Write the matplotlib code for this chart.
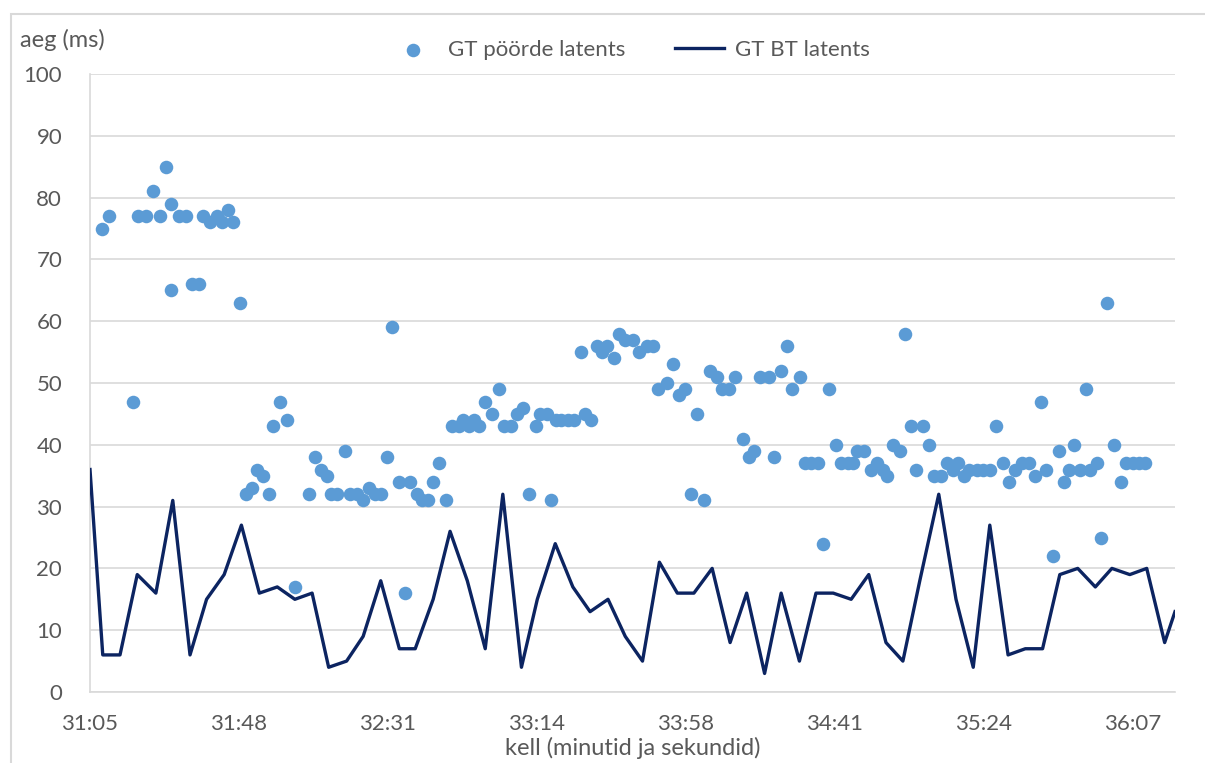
import matplotlib.pyplot as plt
from matplotlib.patches import Rectangle

# time axis: seconds after 31:05
tick_pos = [0, 43.2, 86.4, 129.6, 172.8, 216.0, 259.2, 302.4]
tick_labels = ["31:05", "31:48", "32:31", "33:14", "33:58", "34:41", "35:24", "36:07"]

# GT BT latents (line)
bt_t = [0, 3.7, 8.7, 13.7, 19.1, 24.0, 29.0, 33.8, 38.9, 43.9, 49.1, 54.3, 59.4, 64.4,
        69.2, 74.4, 79.2, 84.3, 89.7, 94.3, 99.5, 104.4, 109.4, 114.6, 119.7, 125.1,
        129.7, 134.9, 140.0, 145.0, 150.2, 155.2, 160.2, 165.1, 170.3, 175.1, 180.4,
        185.6, 190.4, 195.6, 200.4, 205.7, 210.5, 215.5, 220.7, 225.8, 230.8, 235.7,
        240.6, 246.1, 251.1, 256.1, 260.9, 266.2, 271.2, 276.2, 281.2, 286.4, 291.5,
        296.3, 301.5, 306.4, 311.6, 314.6]
bt_ms = [36, 6, 6, 19, 16, 31, 6, 15, 19, 27, 16, 17, 15, 16,
         4, 5, 9, 18, 7, 7, 15, 26, 18, 7, 32, 4,
         15, 24, 17, 13, 15, 9, 5, 21, 16, 16, 20,
         8, 16, 3, 16, 5, 16, 16, 15, 19, 8, 5,
         18, 32, 15, 4, 27, 6, 7, 7, 19, 20, 17,
         20, 19, 20, 8, 13]

# GT pöörde latents (points)
p_t = [3.5, 5.4, 12.4, 14.0, 16.2, 18.4, 20.3, 21.9, 23.6, 23.6, 25.7, 27.8, 29.6, 31.5,
       32.8, 34.8, 36.7, 38.2, 40.1, 41.5, 43.5, 45.2, 47.0, 48.5, 50.1, 52.0, 53.1,
       55.1, 57.0, 59.4, 63.4, 65.3, 66.9, 68.6, 69.8, 71.7, 73.8, 75.4, 77.3, 79.1,
       81.0, 82.6, 84.4, 86.0, 87.6, 89.5, 91.3, 92.8, 94.7, 96.3, 98.0, 99.4, 101.3,
       103.2, 105.0, 106.9, 108.1, 109.8, 111.3, 112.9, 114.6, 116.6, 118.5, 120.0,
       122.0, 123.7, 125.5, 127.4, 129.3, 130.5, 132.4, 133.7, 135.1, 136.6, 138.6,
       140.3, 142.3, 143.6, 145.2, 146.9, 148.4, 150.0, 151.9, 153.5, 155.2, 157.4,
       159.3, 161.4, 163.3, 164.8, 167.2, 169.0, 170.9, 172.4, 174.2, 176.1, 178.0,
       179.8, 181.7, 183.2, 185.2, 186.9, 189.2, 191.0, 192.5, 194.3, 196.8, 198.3,
       200.3, 202.2, 203.5, 205.9, 207.4, 209.1, 211.1, 212.4, 214.4, 216.3, 217.8,
       219.8, 221.3, 222.5, 224.4, 226.4, 228.1, 230.0, 231.2, 232.9, 234.9, 236.3,
       238.1, 239.6, 241.4, 243.2, 244.7, 246.7, 248.4, 250.1, 251.7, 253.4, 255.0,
       257.1, 259.0, 260.9, 262.7, 264.6, 266.4, 268.1, 270.2, 272.2, 273.9, 275.7,
       277.2, 279.3, 281.0, 282.4, 283.9, 285.3, 287.0, 288.8, 289.9, 291.9, 293.2,
       295.0, 296.9, 298.8, 300.4, 302.3, 304.2, 306.0]
p_ms = [75, 77, 47, 77, 77, 81, 77, 85, 79, 65, 77, 77, 66, 66,
        77, 76, 77, 76, 78, 76, 63, 32, 33, 36, 35, 32, 43,
        47, 44, 17, 32, 38, 36, 35, 32, 32, 39, 32, 32, 31,
        33, 32, 32, 38, 59, 34, 16, 34, 32, 31, 31, 34, 37,
        31, 43, 43, 44, 43, 44, 43, 47, 45, 49, 43,
        43, 45, 46, 32, 43, 45, 45, 31, 44, 44, 44,
        44, 55, 45, 44, 56, 55, 56, 54, 58, 57, 57,
        55, 56, 56, 49, 50, 53, 48, 49, 32, 45, 31,
        52, 51, 49, 49, 51, 41, 38, 39, 51, 51, 38,
        52, 56, 49, 51, 37, 37, 37, 24, 49, 40, 37,
        37, 37, 39, 39, 36, 37, 36, 35, 40, 39, 58,
        43, 36, 43, 40, 35, 35, 37, 36, 37, 35, 36,
        36, 36, 36, 43, 37, 34, 36, 37, 37, 35, 47,
        36, 22, 39, 34, 36, 40, 36, 49, 36, 37, 25,
        63, 40, 34, 37, 37, 37, 37]

fnt = ["Lato", "DejaVu Sans"]
plt.rcParams['font.family'] = fnt
txt = "#595959"
grid = "#d9d9d9"

fig = plt.figure(figsize=(12.05, 7.63), dpi=100)
ax = fig.add_axes([90/1205, 71/763, 1085/1205, 618/763])

fig.patches.append(Rectangle((11/1205, -0.05), 1.1, 1 - 14/763 + 0.05,
                             transform=fig.transFigure, fill=False,
                             edgecolor=grid, linewidth=1.5))

ax.scatter(p_t, p_ms, s=95, color="#5b9bd5", zorder=3, linewidths=0,
           label="GT pöörde latents")
ax.plot(bt_t, bt_ms, color="#0c2461", linewidth=2.4, zorder=4,
        label="GT BT latents")

ax.set_xlim(0, 314.6)
ax.set_ylim(0, 100)
ax.set_yticks(range(0, 101, 10))
ax.set_xticks(tick_pos)
ax.set_xticklabels(tick_labels)
ax.grid(axis="y", color=grid, linewidth=1.2)
ax.set_axisbelow(True)
ax.tick_params(length=0, labelsize=16, colors=txt, pad=16)
ax.tick_params(axis="y", pad=20)
for s in ["top", "right"]:
    ax.spines[s].set_visible(False)
ax.spines["left"].set_color(grid)
ax.spines["bottom"].set_color(grid)
ax.spines["left"].set_linewidth(1.2)
ax.spines["bottom"].set_linewidth(1.2)

ax.set_xlabel("kell (minutid ja sekundid)", fontsize=17, color=txt, labelpad=2)
fig.text(20/1205, 1 - 40/763, "aeg (ms)", fontsize=17, color=txt,
         va="center", ha="left")

fig.legend(loc="center", bbox_to_anchor=(629/1205, 1 - 50/763), ncol=2,
           frameon=False, fontsize=16, labelcolor=txt, handlelength=2.2,
           columnspacing=2.2, handletextpad=0.5)

fig.savefig("out.png", dpi=100)
